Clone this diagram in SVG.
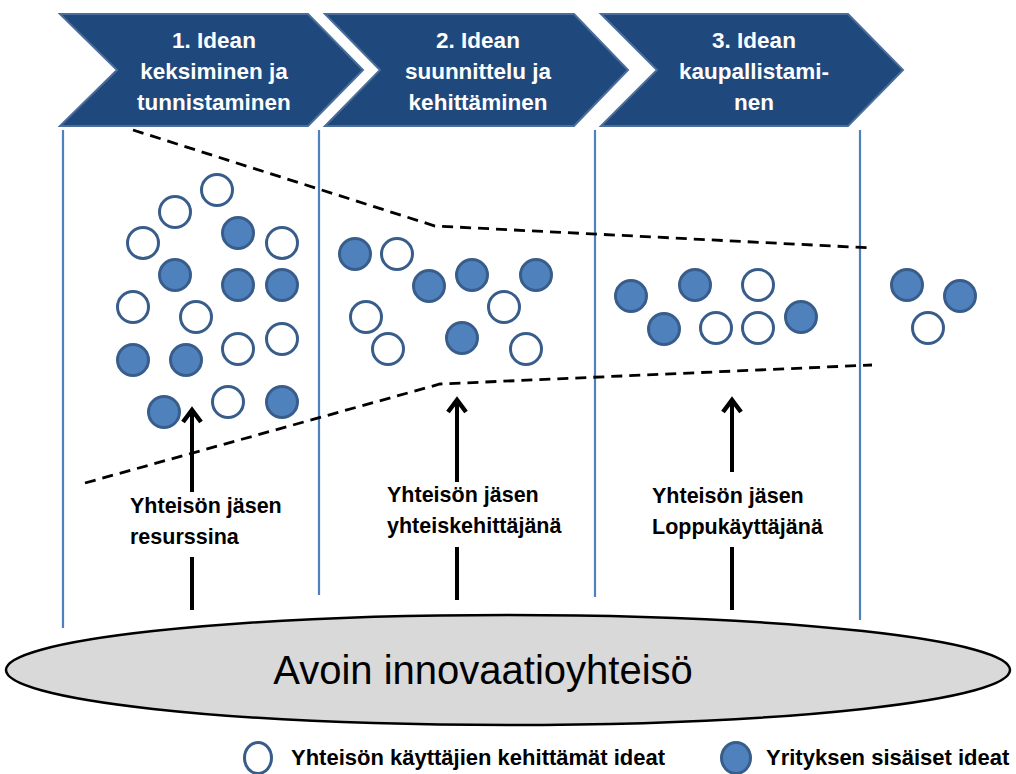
<svg xmlns="http://www.w3.org/2000/svg" width="1016" height="774" viewBox="0 0 1016 774">
<defs>
<style>
.chev{fill:#1F497D;stroke:#4A6D9A;stroke-width:2}
.ct{font-family:"Liberation Sans",Arial,sans-serif;font-weight:bold;font-size:22.5px;fill:#FFFFFF;text-anchor:middle}
.vl{stroke:#4F81BD;stroke-width:2.2;fill:none}
.dash{stroke:#000;stroke-width:2.8;stroke-dasharray:11 7;fill:none}
.on{fill:#4F81BD;stroke:#385D8A;stroke-width:3}
.off{fill:#FFFFFF;stroke:#385D8A;stroke-width:3}
.arr{stroke:#000;stroke-width:4;fill:none}
.lbl{font-family:"Liberation Sans",Arial,sans-serif;font-weight:bold;font-size:21.5px;fill:#000}
.leg{font-family:"Liberation Sans",Arial,sans-serif;font-weight:bold;font-size:22px;fill:#000}
</style>
<marker id="ah" markerUnits="userSpaceOnUse" markerWidth="24" markerHeight="26" viewBox="-18 -13 24 26" refX="0" refY="0" orient="auto">
<path d="M-13,-9 L-1,0 L-13,9" fill="none" stroke="#000" stroke-width="4.5" stroke-linejoin="miter"/>
</marker>
</defs>
<rect width="1016" height="774" fill="#FFFFFF"/>

<g id="phase1">
<polygon class="chev" points="60,14 308,14 363,70 308,126 60,126 117,70"/>
<text class="ct" x="214" y="48">1. Idean</text>
<text class="ct" x="214" y="79">keksiminen ja</text>
<text class="ct" x="214" y="110">tunnistaminen</text>
</g>
<g id="phase2">
<polygon class="chev" points="325,14 574,14 628,70 574,126 325,126 380,70"/>
<text class="ct" x="478" y="48">2. Idean</text>
<text class="ct" x="478" y="79">suunnittelu ja</text>
<text class="ct" x="478" y="110">kehittäminen</text>
</g>
<g id="phase3">
<polygon class="chev" points="601,14 848,14 903,70 848,126 601,126 657,70"/>
<text class="ct" x="754" y="48">3. Idean</text>
<text class="ct" x="754" y="79">kaupallistami-</text>
<text class="ct" x="754" y="110">nen</text>
</g>

<g id="dividers">
<line class="vl" x1="63" y1="130" x2="63" y2="628"/>
<line class="vl" x1="319" y1="130" x2="319" y2="595"/>
<line class="vl" x1="595" y1="130" x2="595" y2="597"/>
<line class="vl" x1="860" y1="130" x2="860" y2="620"/>
</g>

<g id="funnel">
<polyline class="dash" points="133,130 435,226 872,248"/>
<polyline class="dash" points="85,483 440,384 872,365"/>
</g>

<g id="ideas1">
<circle class="off" cx="217" cy="190" r="15.5"/>
<circle class="off" cx="175" cy="212" r="15.5"/>
<circle class="off" cx="143" cy="243" r="15.5"/>
<circle class="on" cx="238" cy="233" r="15.5"/>
<circle class="off" cx="282" cy="243" r="15.5"/>
<circle class="on" cx="175" cy="275" r="15.5"/>
<circle class="on" cx="238" cy="285" r="15.5"/>
<circle class="on" cx="282" cy="285" r="15.5"/>
<circle class="off" cx="133" cy="307" r="15.5"/>
<circle class="off" cx="196" cy="317" r="15.5"/>
<circle class="on" cx="133" cy="360" r="15.5"/>
<circle class="on" cx="186" cy="360" r="15.5"/>
<circle class="off" cx="238" cy="349" r="15.5"/>
<circle class="off" cx="282" cy="339" r="15.5"/>
<circle class="on" cx="164" cy="412" r="15.5"/>
<circle class="off" cx="228" cy="402" r="15.5"/>
<circle class="on" cx="282" cy="402" r="15.5"/>
</g>
<g id="ideas2">
<circle class="on" cx="355" cy="254" r="15.5"/>
<circle class="off" cx="397" cy="254" r="15.5"/>
<circle class="on" cx="429" cy="286" r="15.5"/>
<circle class="on" cx="472" cy="275" r="15.5"/>
<circle class="on" cx="536" cy="275" r="15.5"/>
<circle class="off" cx="366" cy="317" r="15.5"/>
<circle class="off" cx="504" cy="307" r="15.5"/>
<circle class="off" cx="388" cy="349" r="15.5"/>
<circle class="on" cx="462" cy="338" r="15.5"/>
<circle class="off" cx="526" cy="349" r="15.5"/>
</g>
<g id="ideas3">
<circle class="on" cx="631" cy="296" r="15.5"/>
<circle class="on" cx="695" cy="285" r="15.5"/>
<circle class="off" cx="758" cy="285" r="15.5"/>
<circle class="on" cx="664" cy="329" r="15.5"/>
<circle class="off" cx="716" cy="328" r="15.5"/>
<circle class="off" cx="758" cy="328" r="15.5"/>
<circle class="on" cx="801" cy="317" r="15.5"/>
</g>
<g id="ideas4">
<circle class="on" cx="907" cy="285" r="15.5"/>
<circle class="on" cx="960" cy="296" r="15.5"/>
<circle class="off" cx="928" cy="328" r="15.5"/>
</g>

<g id="connectors">
<line class="arr" x1="192" y1="492" x2="192" y2="409" marker-end="url(#ah)"/>
<line class="arr" x1="192" y1="557" x2="192" y2="610"/>
<line class="arr" x1="457" y1="482" x2="457" y2="399" marker-end="url(#ah)"/>
<line class="arr" x1="457" y1="547" x2="457" y2="600"/>
<line class="arr" x1="732" y1="472" x2="732" y2="399" marker-end="url(#ah)"/>
<line class="arr" x1="732" y1="547" x2="732" y2="610"/>
</g>

<g id="label1">
<text class="lbl" x="130" y="513">Yhteisön jäsen</text>
<text class="lbl" x="130" y="544">resurssina</text>
</g>
<g id="label2">
<text class="lbl" x="387" y="502">Yhteisön jäsen</text>
<text class="lbl" x="387" y="533">yhteiskehittäjänä</text>
</g>
<g id="label3">
<text class="lbl" x="652" y="503">Yhteisön jäsen</text>
<text class="lbl" x="652" y="534">Loppukäyttäjänä</text>
</g>

<g id="community">
<ellipse cx="508" cy="670" rx="502" ry="55" fill="#D9D9D9" stroke="#000" stroke-width="2.5"/>
<text x="483" y="684" font-family="'Liberation Sans',Arial,sans-serif" font-size="40px" fill="#000" text-anchor="middle">Avoin innovaatioyhteisö</text>
</g>

<g id="legend">
<ellipse class="off" cx="258" cy="758" rx="13.5" ry="15.5"/>
<text class="leg" x="291" y="765">Yhteisön käyttäjien kehittämät ideat</text>
<ellipse class="on" cx="736" cy="758" rx="14.5" ry="15.5"/>
<text class="leg" x="766" y="765">Yrityksen sisäiset ideat</text>
</g>
</svg>
